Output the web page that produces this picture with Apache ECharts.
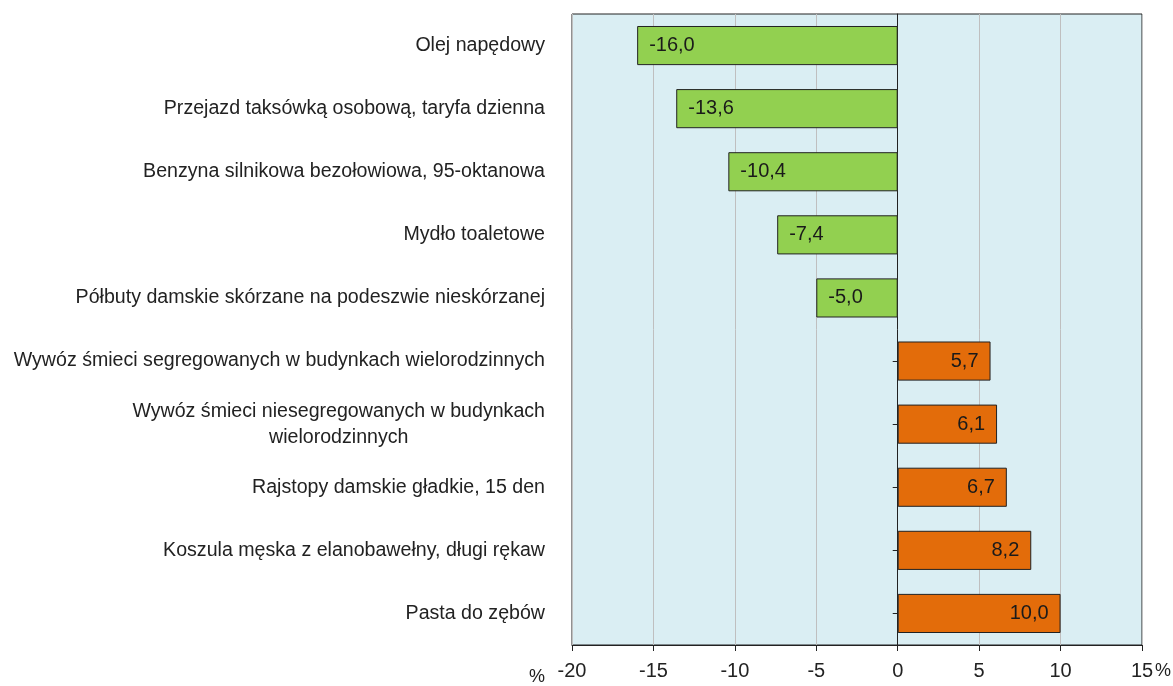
<!DOCTYPE html>
<html>
<head>
<meta charset="utf-8">
<script src="https://cdn.jsdelivr.net/npm/echarts@6/dist/echarts.min.js"></script>
<style>
  html, body { margin: 0; padding: 0; background: #fff; }
  #main { width: 1173px; height: 686px; }
</style>
</head>
<body>
<div id="main"></div>
<script>
// nazwy towarów i usług
var categories = [
    'Olej napędowy',
    'Przejazd taksówką osobową, taryfa dzienna',
    'Benzyna silnikowa bezołowiowa, 95-oktanowa',
    'Mydło toaletowe',
    'Półbuty damskie skórzane na podeszwie nieskórzanej',
    'Wywóz śmieci segregowanych w budynkach wielorodzinnych',
    'Wywóz śmieci niesegregowanych w budynkach\nwielorodzinnych',
    'Rajstopy damskie gładkie, 15 den',
    'Koszula męska z elanobawełny, długi rękaw',
    'Pasta do zębów'
];
// zmiana cen w %
var values = [-16.0, -13.6, -10.4, -7.4, -5.0, 5.7, 6.1, 6.7, 8.2, 10.0];
var axisMin = -20, axisMax = 15, axisStep = 5;

var FONT = '"Liberation Sans", Arial, sans-serif';

var myChart = echarts.init(document.getElementById('main'));

var barData = values.map(function (v) {
    return {
        value: v,
        itemStyle: { color: v < 0 ? '#92D050' : '#E36C0A' },
        label: { position: v < 0 ? 'insideLeft' : 'insideRight' }
    };
});

var option = {
    animation: false,
    textStyle: { fontFamily: FONT },
    grid: {
        left: 572, right: 31, top: 14, bottom: 41,
        show: true,
        backgroundColor: '#DAEEF3',
        borderColor: '#222',
        borderWidth: 1
    },
    xAxis: {
        type: 'value',
        min: axisMin, max: axisMax, interval: axisStep,
        axisLine: { show: true, onZero: false, lineStyle: { color: '#222' } },
        axisTick: { show: true, length: 6, lineStyle: { color: '#222' } },
        axisLabel: { color: '#222', fontSize: 20, fontFamily: FONT, margin: 16 },
        splitLine: { show: true, lineStyle: { color: '#bfbfbf', width: 1 } }
    },
    yAxis: [{
        type: 'category',
        data: categories,
        inverse: true,
        axisLine: { show: false, onZero: false },
        axisTick: { show: false },
        axisLabel: {
            color: '#222', fontSize: 19.6, fontFamily: FONT, margin: 27, lineHeight: 26,
            formatter: function (s) {
                var parts = s.split('\n');
                if (parts.length === 1) return s;
                return parts[0] + '\n{c|' + parts[1] + '}';
            },
            rich: { c: { align: 'center', fontSize: 19.6, lineHeight: 26, fontFamily: FONT, color: '#222' } }
        }
    }, {
        type: 'category',
        data: categories,
        inverse: true,
        position: 'left',
        axisLine: { show: true, onZero: true, lineStyle: { color: '#222' } },
        axisTick: { show: true, alignWithLabel: true, length: 5, lineStyle: { color: '#222' } },
        axisLabel: { show: false }
    }],
    series: [{
        type: 'bar',
        data: barData,
        barCategoryGap: '38%',
        itemStyle: { borderColor: '#222', borderWidth: 1 },
        label: {
            show: true,
            distance: 12,
            color: '#1a1a1a',
            fontSize: 20,
            fontFamily: FONT,
            formatter: function (p) { return p.value.toFixed(1).replace('.', ','); }
        }
    }],
    graphic: [
        { type: 'text', left: 529, top: 668, style: { text: '%', fontSize: 18, fontFamily: FONT, fill: '#222' } },
        { type: 'text', left: 1155, top: 662, style: { text: '%', fontSize: 18, fontFamily: FONT, fill: '#222' } }
    ]
};

myChart.setOption(option);
</script>
</body>
</html>
